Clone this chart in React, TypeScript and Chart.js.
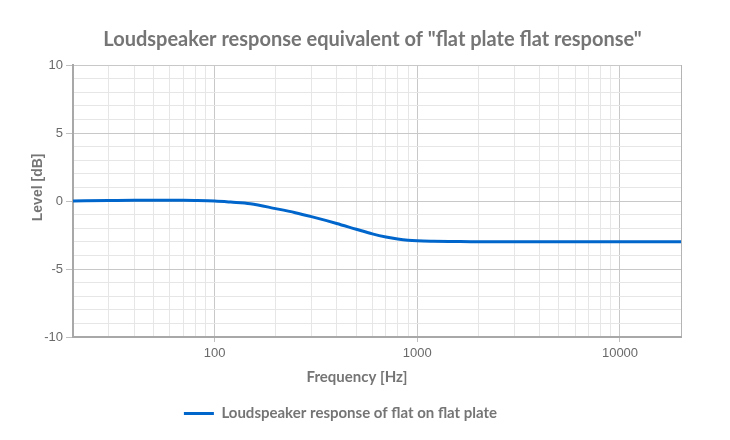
import { useEffect, useRef } from "react";
import { Chart, registerables } from "chart.js";

Chart.register(...registerables);

// frequency response
const freqs = [20, 30, 40, 50, 60, 70, 80, 100, 120, 150, 200, 250, 300, 400, 500, 600, 700, 800, 900, 1000, 1200, 1500, 2000, 5000, 10000, 20000];
const levels = [0, 0.03, 0.05, 0.05, 0.05, 0.05, 0.04, 0, -0.08, -0.2, -0.56, -0.86, -1.15, -1.65, -2.08, -2.42, -2.65, -2.8, -2.89, -2.93, -2.96, -2.98, -3.0, -3.0, -3.0, -3.0];

const xMajor = [100, 1000, 10000];
const xMinorSteps = [1, 2, 3, 4, 5, 6, 7, 8, 9];
const xDecades = [10, 100, 1000, 10000];

const GREY = "#757575";

// the title in the reference sits a bit right of the legend centre
const shiftTitle = {
  id: "shiftTitle",
  afterLayout(chart: any) {
    if (chart.titleBlock) chart.titleBlock.left += 64;
  },
};

export default function App() {
  const canvasEl: any = useRef(null);

  useEffect(() => {
    document.body.style.margin = "0";
    const ctx = canvasEl.current.getContext("2d");

    const xTicks: number[] = [];
    xDecades.forEach((d) => xMinorSteps.forEach((s) => {
      const v = d * s;
      if (v >= 20 && v <= 20000) xTicks.push(v);
    }));
    xTicks.push(20000);

    const chart = new Chart(ctx, {
      type: "line",
      data: {
        datasets: [
          {
            label: "Loudspeaker response of flat on flat plate",
            data: freqs.map((f, i) => ({ x: f, y: levels[i] })),
            borderColor: "#0066cc",
            backgroundColor: "#0066cc",
            borderWidth: 3,
            pointRadius: 0,
            cubicInterpolationMode: "monotone",
          },
        ],
      },
      plugins: [shiftTitle],
      options: {
        animation: false,
        responsive: false,
        layout: { padding: { left: 0, right: 49, top: 0, bottom: 9 } },
        plugins: {
          title: {
            display: true,
            text: 'Loudspeaker response equivalent of "flat plate flat response"',
            color: GREY,
            font: { family: "Lato", size: 20, weight: "bold" },
            padding: { top: 28, bottom: 13 },
          },
          legend: {
            position: "bottom",
            labels: {
              usePointStyle: true,
              pointStyle: "line",
              pointStyleWidth: 30,
              color: GREY,
              font: { family: "Lato", size: 15, weight: "bold" },
              padding: 20,
            },
          },
          tooltip: { enabled: false },
        },
        scales: {
          x: {
            type: "logarithmic",
            min: 20,
            max: 20000,
            afterBuildTicks: (scale: any) => {
              scale.ticks = xTicks.map((v) => ({ value: v }));
            },
            afterFit: (scale: any) => {
              scale.height = 49;
            },
            ticks: {
              autoSkip: false,
              maxRotation: 0,
              color: "#6a6a6a",
              padding: 4,
              font: { family: "Liberation Sans", size: 13 },
              callback: (v: any) => (xMajor.includes(Number(v)) ? String(v) : ""),
            },
            grid: {
              color: (c: any) => {
                const v = c.tick?.value;
                if (v === 20000) return "#b4b4b4";
                return xMajor.includes(v) ? "#c8c8c8" : "#e6e6e6";
              },
              tickColor: (c: any) => (xMajor.includes(c.tick?.value) ? "#c0c0c0" : "rgba(0,0,0,0)"),
              tickLength: 5,
            },
            border: { color: "#a8a8a8", width: 2 },
            title: {
              display: true,
              text: "Frequency [Hz]           ",
              color: GREY,
              font: { family: "Lato", size: 15, weight: "bold" },
              padding: { top: 6, bottom: 0 },
            },
          },
          y: {
            min: -10,
            max: 10,
            afterFit: (scale: any) => {
              scale.width = 73;
            },
            ticks: {
              stepSize: 1,
              autoSkip: false,
              color: "#6a6a6a",
              padding: 3,
              font: { family: "Liberation Sans", size: 13 },
              callback: (v: any) => (Number(v) % 5 === 0 ? String(v) : ""),
            },
            grid: {
              color: (c: any) => (c.tick?.value % 5 === 0 ? "#c8c8c8" : "#e6e6e6"),
              tickColor: (c: any) => (c.tick?.value % 5 === 0 ? "#c0c0c0" : "rgba(0,0,0,0)"),
              tickLength: 7,
            },
            border: { color: "#a8a8a8", width: 2 },
            title: {
              display: true,
              text: "       Level [dB]",
              color: GREY,
              font: { family: "Liberation Sans", size: 14, weight: "bold" },
              padding: { top: 30, bottom: 0 },
            },
          },
        },
      },
    } as any);

    return () => {
      chart.destroy();
    };
  }, []);

  return <canvas ref={canvasEl} width={730} height={440} />;
}
